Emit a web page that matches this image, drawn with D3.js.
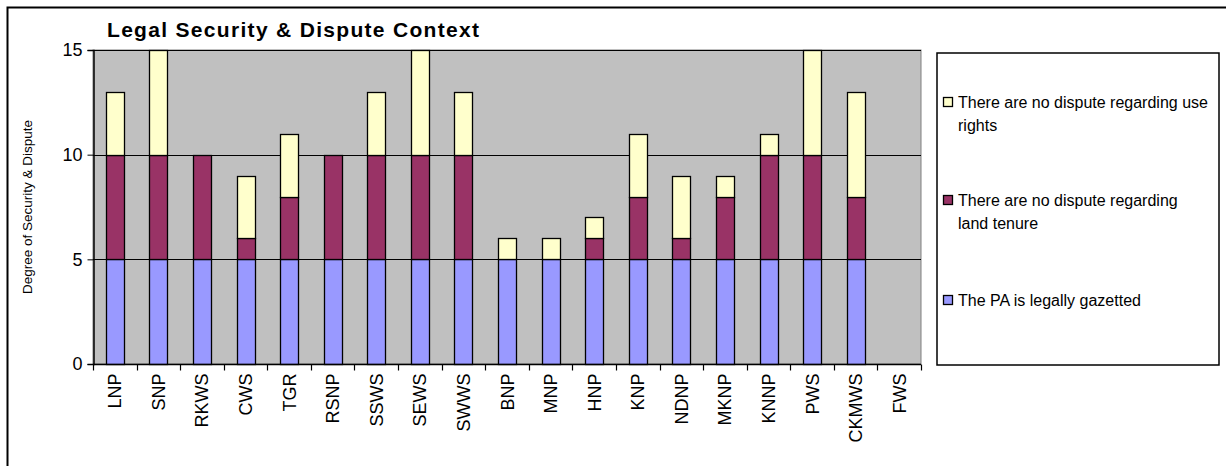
<!DOCTYPE html>
<html><head><meta charset="utf-8">
<script src="https://cdn.jsdelivr.net/npm/d3@7"></script>
<style>body{margin:0;background:#fff;} svg{display:block;font-family:Arial,"Liberation Sans",sans-serif;}</style>
</head><body>
<svg id="c" width="1226" height="466"></svg>
<script>
const categories = ["LNP","SNP","RKWS","CWS","TGR","RSNP","SSWS","SEWS","SWWS","BNP","MNP","HNP","KNP","NDNP","MKNP","KNNP","PWS","CKMWS","FWS"];
const gazetted   = [5,5,5,5,5,5,5,5,5,5,5,5,5,5,5,5,5,5,0];
const landTenure = [5,5,5,1,3,5,5,5,5,0,0,1,3,1,3,5,5,3,0];
const useRights  = [3,5,0,3,3,0,3,5,3,1,1,1,3,3,1,1,5,5,0];
const seriesNames = ["The PA is legally gazetted","There are no dispute regarding land tenure","There are no dispute regarding use rights"];
const seriesColors = ["#9999ff","#993366","#ffffcc"];
const yTicks = [0,5,10,15];
const title = "Legal Security & Dispute Context";
const yTitle = "Degree of Security & Dispute";

const svg = d3.select("#c");
// outer frame (only top and left visible)
svg.append("rect").attr("x",7.5).attr("y",7.5).attr("width",1240).attr("height",480)
  .attr("fill","none").attr("stroke","#000").attr("stroke-width",2);

const L=93, R=921, T=50, B=364;
const x = d3.scaleBand().domain(categories).range([L,R]).paddingInner(0.59).paddingOuter(0.295);
const y = d3.scaleLinear().domain([0,15]).range([B,T]);

svg.append("rect").attr("x",L).attr("y",T).attr("width",R-L).attr("height",B-T)
  .attr("fill","#c0c0c0").attr("stroke","#808080").attr("stroke-width",1);

// gridlines
svg.append("g").selectAll("line").data(yTicks.filter(d=>d>0)).join("line")
  .attr("x1",L).attr("x2",R).attr("y1",d=>Math.round(y(d))+0.5).attr("y2",d=>Math.round(y(d))+0.5)
  .attr("stroke","#000").attr("stroke-width",1);

const data = categories.map((c,i)=>({cat:c, v:[gazetted[i],landTenure[i],useRights[i]]}));
const stack = d3.stack().keys([0,1,2]).value((d,k)=>d.v[k]);
const stacked = stack(data);
stacked.forEach((s,k)=>{
  svg.append("g").selectAll("rect").data(s.filter(d=>d[1]-d[0]>0)).join("rect")
    .attr("x",d=>Math.round(x(d.data.cat))+0.5)
    .attr("width",Math.round(x.bandwidth()))
    .attr("y",d=>Math.round(y(d[1]))+0.5)
    .attr("height",d=>Math.round(y(d[0]))-Math.round(y(d[1])))
    .attr("fill",seriesColors[k]).attr("stroke","#000").attr("stroke-width",1.3);
});

// y axis
const ya = svg.append("g").attr("transform",`translate(${L+0.5},0)`)
  .call(d3.axisLeft(y).tickValues(yTicks).tickSize(6).tickPadding(5));
ya.select(".domain").attr("stroke","#000").attr("stroke-width",1.5);
ya.selectAll("text").attr("font-size",18).attr("font-family","Arial").attr("fill","#000");

// x axis with ticks between categories
const xa = svg.append("g").attr("transform",`translate(0,${B+0.5})`);
xa.append("line").attr("x1",L).attr("x2",R).attr("stroke","#000").attr("stroke-width",1.5);
const step = x.step();
xa.selectAll("line.t").data(d3.range(categories.length+1)).join("line").attr("class","t")
  .attr("x1",i=>Math.round(L+i*step)+0.5).attr("x2",i=>Math.round(L+i*step)+0.5)
  .attr("y1",0).attr("y2",6).attr("stroke","#000").attr("stroke-width",1.2);
xa.selectAll("text").data(categories).join("text")
  .attr("transform",d=>`translate(${x(d)+x.bandwidth()/2+6.5},9) rotate(-90)`)
  .attr("text-anchor","end").attr("font-size",18).attr("fill","#000").text(d=>d);

// title
svg.append("text").attr("x",107).attr("y",37).attr("font-size",21).attr("font-weight","bold")
  .attr("textLength",372).attr("lengthAdjust","spacing").text(title);

// y title
svg.append("text").attr("transform","translate(32,207) rotate(-90)").attr("text-anchor","middle")
  .attr("font-size",13.5).text(yTitle);

// legend
svg.append("rect").attr("x",937).attr("y",53).attr("width",282).attr("height",312)
  .attr("fill","#fff").attr("stroke","#000").attr("stroke-width",1.5);
const legItems = [
  {k:2, lines:["There are no dispute regarding use","rights"], y:108},
  {k:1, lines:["There are no dispute regarding","land tenure"], y:206},
  {k:0, lines:["The PA is legally gazetted"], y:306}
];
const leg = svg.append("g");
legItems.forEach(it=>{
  leg.append("rect").attr("x",943.5).attr("y",it.y-10.5).attr("width",9).attr("height",9)
    .attr("fill",seriesColors[it.k]).attr("stroke","#000").attr("stroke-width",1.3);
  it.lines.forEach((ln,j)=>{
    leg.append("text").attr("x",958).attr("y",it.y+j*23).attr("font-size",16).text(ln);
  });
});
</script>
</body></html>
